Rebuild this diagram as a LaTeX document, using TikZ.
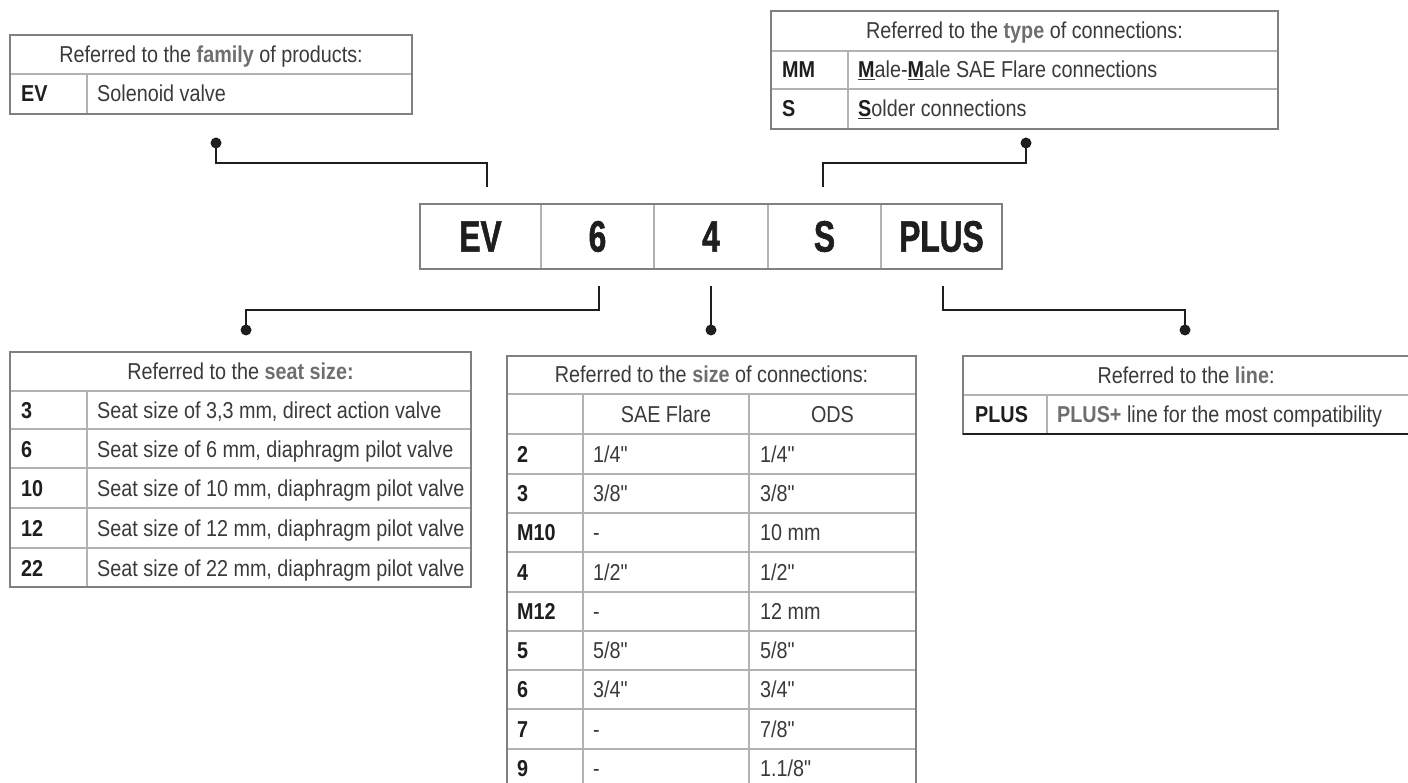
\documentclass[tikz,border=0pt]{standalone}
\usepackage{fontspec}
\setmainfont[FakeStretch=0.86]{Liberation Sans}
\newfontfamily\codefont[FakeStretch=0.72, FakeBold=1.2]{Liberation Sans Bold}
\definecolor{txt}{HTML}{3A3A3A}
\definecolor{hbold}{HTML}{6E6E6E}
\definecolor{kbold}{HTML}{1E1E1E}
\definecolor{gin}{HTML}{B2B2B2}
\definecolor{gout}{HTML}{808080}
\definecolor{conncol}{HTML}{1E1E1E}
\newcommand\hb[1]{\textbf{\color{hbold}#1}}
\newcommand\ub[1]{\underline{\textbf{\color{kbold}#1}}}
\newcommand\inch{\XeTeXglyph\XeTeXglyphindex "quotedbl"\relax}
\tikzset{
  x=1pt, y=-1pt,
  gridin/.style={draw=gin, line width=1.5pt},
  gridout/.style={draw=gout, line width=1.5pt},
  hdr/.style={anchor=base, inner sep=0, text=txt, font=\fontsize{23}{26}\selectfont},
  codetxt/.style={anchor=base west, inner sep=0, text=kbold, font=\fontsize{23}{26}\selectfont\bfseries},
  desc/.style={anchor=base west, inner sep=0, text=txt, font=\fontsize{23}{26}\selectfont},
  codecell/.style={draw=gout, line width=1.5pt, minimum height=65pt, inner sep=0, text=kbold, font=\codefont\fontsize{44}{46}\selectfont},
  conn/.style={draw=conncol, line width=2.8pt},
  dotc/.style={circle, fill=conncol, inner sep=0, minimum size=11pt}
}
\begin{document}
\begin{tikzpicture}
\useasboundingbox (0,0) rectangle (1408,783);

% ---------- code box ----------
\node[codecell, minimum width=121pt] (cEV)   at (480.5,236.5) {EV};
\node[codecell, minimum width=113pt] (c6)    at (597.5,236.5) {6};
\node[codecell, minimum width=114pt] (c4)    at (711,236.5) {4};
\node[codecell, minimum width=113pt] (cS)    at (824.5,236.5) {S};
\node[codecell, minimum width=121pt] (cPLUS) at (941.5,236.5) {PLUS};
\draw[draw=gin, line width=1.5pt] (541,204) -- (541,269) (654,204) -- (654,269) (768,204) -- (768,269) (881,204) -- (881,269);
\draw[gridout] (420,204) rectangle (1002,269);

% ---------- family table ----------
\draw[gridin] (10,74) -- (412,74) (87,74) -- (87,114);
\draw[gridout] (10,35) rectangle (412,114);
\node[hdr] (famH) at (211,63) {Referred to the \hb{family} of products:};
\node[codetxt] (famEV) at (21,102) {EV};
\node[desc] (famEVd) at (97,102) {Solenoid valve};

% ---------- type table ----------
\draw[gridin] (771,51) -- (1278,51) (771,89) -- (1278,89) (848,51) -- (848,129);
\draw[gridout] (771,11) rectangle (1278,129);
\node[hdr] (typH) at (1024.5,38.5) {Referred to the \hb{type} of connections:};
\node[codetxt] (typMM) at (782,77.5) {MM};
\node[desc] (typMMd) at (858,77.5) {\ub{M}ale-\ub{M}ale SAE Flare connections};
\node[codetxt] (typS) at (782,117) {S};
\node[desc] (typSd) at (858,117) {\ub{S}older connections};

% ---------- seat size table ----------
\draw[gridin] (10,391) -- (471,391) (10,429) -- (471,429) (10,468) -- (471,468)
  (10,508) -- (471,508) (10,548) -- (471,548) (87,391) -- (87,587);
\draw[gridout] (10,352) rectangle (471,587);
\node[hdr] (seatH) at (240.5,379.5) {Referred to the \hb{seat size:}};
\node[codetxt] (s3) at (21,418.5) {3};
\node[desc] (s3d) at (97,418.5) {Seat size of 3,3 mm, direct action valve};
\node[codetxt] (s6) at (21,457) {6};
\node[desc] (s6d) at (97,457) {Seat size of 6 mm, diaphragm pilot valve};
\node[codetxt] (s10) at (21,496.5) {10};
\node[desc] (s10d) at (97,496.5) {Seat size of 10 mm, diaphragm pilot valve};
\node[codetxt] (s12) at (21,536.5) {12};
\node[desc] (s12d) at (97,536.5) {Seat size of 12 mm, diaphragm pilot valve};
\node[codetxt] (s22) at (21,576) {22};
\node[desc] (s22d) at (97,576) {Seat size of 22 mm, diaphragm pilot valve};

% ---------- size table ----------
\draw[gridin] (507,394) -- (916,394) (507,434) -- (916,434) (507,474) -- (916,474)
  (507,513) -- (916,513) (507,552) -- (916,552) (507,592) -- (916,592)
  (507,631) -- (916,631) (507,670) -- (916,670) (507,709) -- (916,709)
  (507,749) -- (916,749) (583,394) -- (583,788) (749,394) -- (749,788);
\draw[gridout] (507,356) rectangle (916,788);
\node[hdr] (sizeH) at (711.5,383) {Referred to the \hb{size} of connections:};
\node[hdr] (sizeSAE) at (666,422) {SAE Flare};
\node[hdr] (sizeODS) at (832.5,422) {ODS};
\node[codetxt] (z2) at (517,462) {2};
\node[desc] (z2a) at (593,462) {1/4\inch};
\node[desc] (z2b) at (760,462) {1/4\inch};
\node[codetxt] (z3) at (517,501.5) {3};
\node[desc] (z3a) at (593,501.5) {3/8\inch};
\node[desc] (z3b) at (760,501.5) {3/8\inch};
\node[codetxt] (zM10) at (517,540.5) {M10};
\node[desc] (zM10a) at (593,540.5) {-};
\node[desc] (zM10b) at (760,540.5) {10 mm};
\node[codetxt] (z4) at (517,580) {4};
\node[desc] (z4a) at (593,580) {1/2\inch};
\node[desc] (z4b) at (760,580) {1/2\inch};
\node[codetxt] (zM12) at (517,619.5) {M12};
\node[desc] (zM12a) at (593,619.5) {-};
\node[desc] (zM12b) at (760,619.5) {12 mm};
\node[codetxt] (z5) at (517,658.5) {5};
\node[desc] (z5a) at (593,658.5) {5/8\inch};
\node[desc] (z5b) at (760,658.5) {5/8\inch};
\node[codetxt] (z6) at (517,697.5) {6};
\node[desc] (z6a) at (593,697.5) {3/4\inch};
\node[desc] (z6b) at (760,697.5) {3/4\inch};
\node[codetxt] (z7) at (517,737) {7};
\node[desc] (z7a) at (593,737) {-};
\node[desc] (z7b) at (760,737) {7/8\inch};
\node[codetxt] (z9) at (517,776.5) {9};
\node[desc] (z9a) at (593,776.5) {-};
\node[desc] (z9b) at (760,776.5) {1.1/8\inch};

% ---------- line table ----------
\draw[gridin] (963,395) -- (1409,395) (1047,395) -- (1047,434);
\draw[gridout] (963,356) rectangle (1409,434);
\draw[draw=kbold, line width=1.5pt] (963,434) -- (1409,434);
\node[hdr] (lineH) at (1186,383.5) {Referred to the \hb{line}:};
\node[codetxt] (lPLUS) at (975,422.5) {PLUS};
\node[desc] (lPLUSd) at (1057,422.5) {\hb{PLUS+} line for the most compatibility};

% ---------- connectors ----------
\node[dotc] (dFam) at (216,143) {};
\node[dotc] (dTyp) at (1026,143) {};
\node[dotc] (dSeat) at (246,330) {};
\node[dotc] (dSize) at (711,330) {};
\node[dotc] (dLine) at (1185,330) {};
\coordinate (kEV) at (487,163);
\coordinate (tEV) at (487,187);
\coordinate (kS) at (823,163);
\coordinate (tS) at (823,187);
\coordinate (b6) at (599,286);
\coordinate (k6) at (599,310);
\coordinate (b4) at (711,286);
\coordinate (bP) at (943,286);
\coordinate (kP) at (943,310);
\draw[conn] (dFam.center) |- (kEV) -- (tEV);
\draw[conn] (dTyp.center) |- (kS) -- (tS);
\draw[conn] (b6) -- (k6) -| (dSeat.center);
\draw[conn] (b4) -- (dSize.center);
\draw[conn] (bP) -- (kP) -| (dLine.center);
\end{tikzpicture}
\end{document}
